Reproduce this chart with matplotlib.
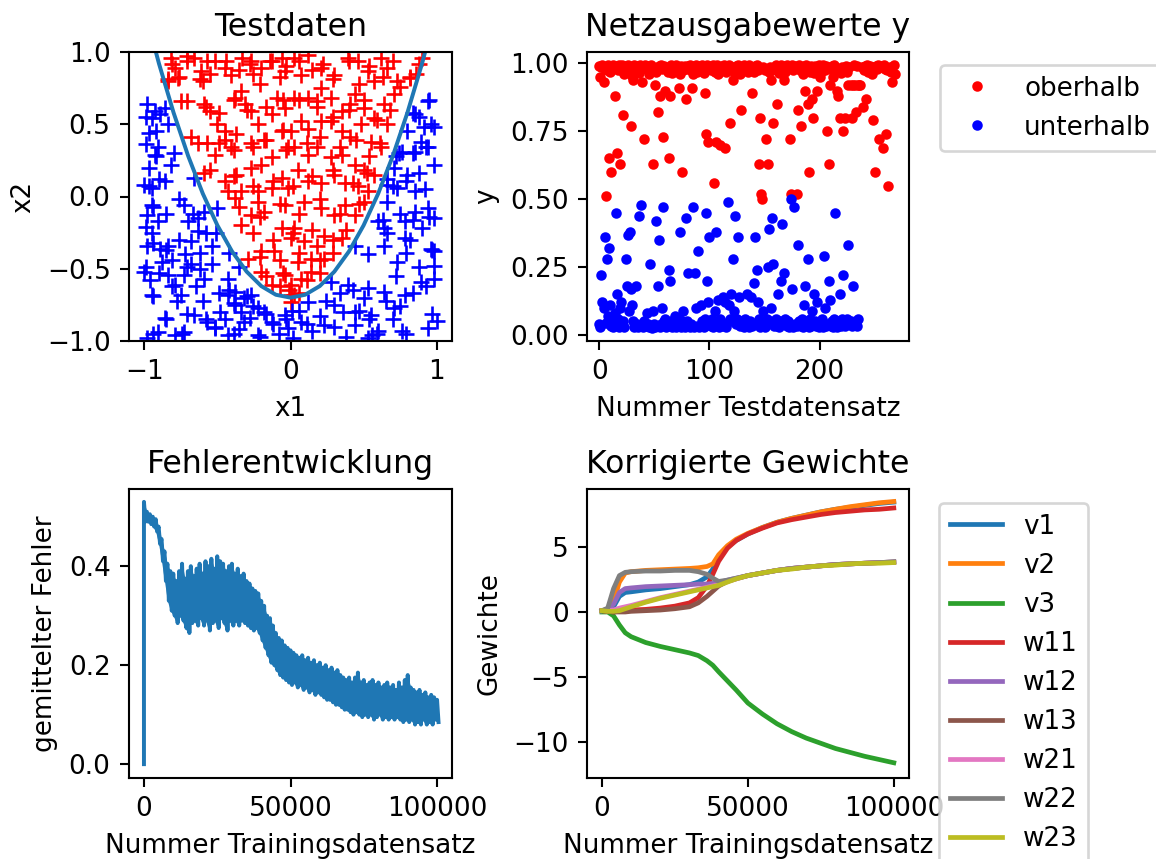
import matplotlib
matplotlib.use("Agg")
import matplotlib.pyplot as plt

# Testdaten: Punkte oberhalb (rot) und unterhalb (blau) der Trennkurve
red_x1 = [-0.82, -0.79, -0.71, -0.66, -0.84, -0.77, -0.71, -0.61, -0.60, -0.57, -0.52, -0.45, -0.41, -0.33, -0.27,
          -0.26, -0.20, -0.13, -0.06, -0.04, -0.34, -0.38, -0.27, -0.31, -0.09, -0.13, -0.04, -0.06, -0.02, 0.0,
          -0.59, -0.55, -0.50, -0.45, -0.68, -0.63, -0.57, -0.52, -0.45, -0.41, -0.37, -0.27, -0.22, -0.18, -0.13,
          -0.20, -0.27, -0.37, -0.45, -0.55, -0.59, -0.06, -0.13, -0.22, -0.34, -0.43, -0.02, -0.75,
          0.025, 0.12, 0.07, 0.21, 0.30, 0.39, 0.46, 0.53, 0.62, 0.66, 0.57, 0.73, 0.82, 0.90, 0.86, 0.025, 0.12,
          0.18, 0.21, 0.28, 0.35, 0.41, 0.44, 0.50, 0.57, 0.64, 0.71, 0.66, 0.07, 0.12, 0.21, 0.28, 0.35, 0.41,
          0.48, 0.55, 0.62, 0.025, 0.12, 0.18, 0.28, 0.35, 0.44, 0.50, 0.57, 0.05, 0.12, 0.21, 0.30, 0.37, 0.46, 0.53,
          -0.38, -0.22, -0.27, -0.34, -0.18, -0.04, -0.06, 0.0, -0.20, -0.11, -0.29, -0.20, -0.04, -0.13, 0.0,
          0.09, 0.21, 0.30, 0.37, 0.44, 0.50, 0.025, 0.09, 0.18, 0.23, 0.35, 0.05, 0.14, 0.23, 0.07, 0.14, 0.025, 0.0,
          -0.81, -0.76, -0.84, -0.71, -0.62, -0.55, -0.44, -0.35, -0.28, -0.21, -0.14, -0.075, -0.03, 0.06, 0.15,
          0.22, 0.29, 0.40, 0.47, 0.54, 0.63, 0.70, 0.75, 0.815, 0.88, -0.58, -0.49, -0.39, -0.30, -0.17, -0.05,
          -0.05, 0.06, 0.18, 0.29, 0.40, 0.50, 0.59, 0.68, -0.49, -0.39, -0.26, -0.17, -0.03, 0.11, 0.20, 0.34,
          0.45, 0.54, 0.61, -0.39, -0.26, -0.12, 0.016, 0.15, 0.29, 0.43, 0.52, -0.35, -0.21, -0.075, 0.06, 0.20,
          0.34, 0.47, -0.26, -0.12, 0.016, 0.15, 0.29, 0.38, -0.21, -0.075, 0.06, 0.20, 0.29, -0.17, -0.05, 0.11,
          0.20, -0.007, 0.06, -0.075, 0.0]
red_x2 = [0.96, 0.89, 0.935, 0.96, 0.80, 0.82, 0.66, 0.87, 0.80, 0.935, 0.935, 0.89, 0.84, 0.96, 0.935,
          0.85, 0.89, 0.935, 0.96, 0.87, 0.73, 0.68, 0.59, 0.64, 0.68, 0.57, 0.61, 0.45, 0.34, 0.45,
          0.64, 0.59, 0.50, 0.45, 0.41, 0.37, 0.37, 0.29, 0.39, 0.34, 0.43, 0.37, 0.50, 0.39, 0.27,
          0.22, 0.20, 0.15, 0.11, 0.18, 0.16, 0.13, 0.06, 0.04, 0.04, 0.04, 0.06, 0.66,
          0.96, 0.98, 0.84, 0.89, 0.84, 0.96, 0.935, 0.87, 0.96, 0.89, 0.80, 0.80, 0.82, 0.96, 0.85, 0.68, 0.68,
          0.66, 0.75, 0.68, 0.59, 0.64, 0.71, 0.61, 0.54, 0.64, 0.71, 0.50, 0.52, 0.47, 0.52, 0.52, 0.45, 0.41,
          0.50, 0.38, 0.34, 0.34, 0.29, 0.34, 0.27, 0.29, 0.22, 0.18, 0.15, 0.18, 0.11, 0.09, 0.15, 0.09, 0.07, 0.04,
          -0.01, -0.04, -0.13, -0.20, -0.105, -0.06, -0.22, -0.29, -0.38, -0.38, -0.43, -0.52, -0.54, -0.61, -0.68,
          -0.036, -0.08, -0.13, -0.06, -0.13, -0.036, -0.22, -0.31, -0.34, -0.27, -0.29, -0.45, -0.43, -0.43, -0.57,
          -0.52, -0.68, -0.61,
          0.92, 0.83, 0.81, 0.97, 0.81, 0.85, 0.94, 0.875, 0.92, 0.78, 0.94, 0.83, 0.90, 0.94, 0.875,
          0.92, 0.81, 0.94, 0.78, 0.90, 0.83, 0.94, 0.76, 0.83, 0.92, 0.62, 0.575, 0.67, 0.60, 0.62, 0.67,
          0.46, 0.67, 0.62, 0.55, 0.60, 0.67, 0.53, 0.60, 0.37, 0.32, 0.345, 0.39, 0.32, 0.37, 0.41, 0.345,
          0.39, 0.28, 0.37, 0.14, 0.07, 0.11, 0.07, 0.14, 0.18, 0.09, 0.16, -0.07, -0.14, -0.05, -0.12, -0.02,
          -0.12, -0.05, -0.25, -0.30, -0.25, -0.23, -0.30, -0.23, -0.42, -0.44, -0.39, -0.44, -0.39, -0.55, -0.53, -0.58,
          -0.53, -0.65, -0.67, -0.62, -0.73]

blue_x1 = [-0.98, -0.93, -0.89, -0.86, -0.95, -0.84, -0.97, -0.91, -0.93, -0.82, -1.0, -0.95, -0.86, -0.66,
           0.94, 0.85, 0.96, 0.98, 0.80, 0.89, 0.85, 0.76, 0.72, 0.71, 0.80, 0.66, 0.66, 0.85, 0.73, 0.94,
           -0.95, -0.98, -0.91, -0.73, -0.70, -0.63, -0.59, -0.50, -0.98, -0.89, -0.84, -0.68, -0.63, -0.54,
           -1.0, -0.84, -0.73, -0.68, -0.59, -0.54, -0.79, -0.75, -0.95, -0.43, -0.38, -0.43, -0.32, -0.27,
           -0.38, -0.48, -0.34, -0.22, -0.18, -0.86, -0.66, -0.57, -0.32, -0.13, -0.91, -0.79, -0.73, -0.52,
           -0.43, -0.22, -0.04, -0.02, -0.98,
           0.66, 0.60, 0.64, 0.78, 0.85, 0.94, 0.98, 0.44, 0.53, 0.64, 0.73, 0.78, 0.96, 0.98, 0.89, 0.98,
           0.28, 0.39, 0.53, 0.64, 0.78, 0.12, 0.30, 0.44, 0.55, 0.71, 0.07, 0.23, 0.44, 0.60, 0.76, 0.94, 1.0,
           0.01, 0.53,
           -0.99, -0.97, -0.92, -0.94, -0.99, -0.85, -0.94, -0.85, -0.76, -0.99, -0.90, -0.81, -0.71, -0.62,
           -0.58, -0.67, -0.76, -0.94, -0.81, -0.85, -0.71, -0.58, -0.49, -0.42, -0.39, -0.30, -0.26, -0.17,
           -0.12, -0.03, 0.06, 0.11, 0.20, 0.24, 0.34, 0.43, 0.47, 0.54, 0.59, 0.70, 0.75, 0.84, 0.93, 0.97,
           0.97, 0.88, 0.79, 0.66, 0.63, 0.75, 0.84, 0.95, 0.70, 0.79, 0.88, 0.84, 0.93, 0.91, 0.84, 0.95, 0.74,
           -0.74, -0.94, -0.39, -0.21, 0.38, 0.79, 0.56, -0.35, -0.42, -0.51,
           -0.97, -0.90, -0.95, -0.88, -0.96, -0.78, -0.65, -0.60, -0.52, -0.45, -0.35, -0.28, -0.08, 0.02, 0.15,
           0.30, 0.36, 0.50, 0.65, 0.72, 0.82, 0.90, 0.98, 0.92, 0.98, 0.88, -0.92, -0.99, -0.80, -0.72, -0.62]
blue_x2 = [0.64, 0.59, 0.57, 0.61, 0.54, 0.50, 0.44, 0.34, 0.29, 0.22, 0.08, 0.06, 0.11, 0.13,
           0.66, 0.57, 0.50, 0.48, 0.45, 0.38, 0.31, 0.31, 0.28, 0.20, 0.15, 0.12, 0.08, 0.04, 0.06, 0.34,
           -0.06, -0.13, -0.17, -0.06, -0.17, -0.15, -0.105, -0.08, -0.34, -0.36, -0.34, -0.31, -0.24, -0.34,
           -0.52, -0.54, -0.54, -0.47, -0.57, -0.47, -0.61, -0.68, -0.68, -0.57, -0.66, -0.68, -0.70, -0.68,
           -0.75, -0.80, -0.80, -0.77, -0.80, -0.84, -0.82, -0.87, -0.87, -0.87, -0.94, -0.96, -0.94, -0.91,
           -0.96, -0.96, -0.82, -0.91, -0.98,
           -0.036, -0.17, -0.22, -0.17, -0.105, -0.08, -0.15, -0.34, -0.40, -0.34, -0.45, -0.29, -0.36, -0.38,
           -0.59, -0.57, -0.59, -0.61, -0.63, -0.66, -0.68, -0.73, -0.75, -0.80, -0.82, -0.77, -0.87, -0.89,
           -0.89, -0.93, -0.93, -0.91, -0.86, -0.79, -0.98,
           0.55, 0.07, 0.28, -0.07, -0.21, -0.12, -0.32, -0.37, -0.30, -0.49, -0.53, -0.44, -0.49, -0.39,
           -0.25, -0.12, -0.02, -0.69, -0.62, -0.85, -0.81, -0.85, -0.67, -0.65, -0.74, -0.69, -0.76, -0.81,
           -0.88, -0.85, -0.79, -0.88, -0.83, -0.72, -0.67, -0.65, -0.79, -0.85, -0.95, -0.85, -0.76, -0.67,
           -0.62, -0.81, -0.37, -0.49, -0.39, -0.25, -0.16, -0.12, -0.16, -0.14, 0.07, 0.11, 0.16, 0.30, 0.345,
           0.48, 0.575, 0.67, 0.30, -0.95, -0.95, -0.95, -0.97, -0.97, -0.95, -0.96, -0.49, -0.39, -0.25,
           0.20, 0.12, -0.25, -0.45, -0.58, -0.72, -0.62, -0.72, -0.90, -0.85, -0.92, -0.84, -0.95, -0.98, -0.93,
           -0.90, -0.80, -0.70, -0.72, -0.55, -0.30, -0.22, -0.48, 0.05, 0.22, 0.55, 0.45, 0.36, 0.30, -0.40, -0.50]

# Trennkurve
curve_x1 = [-1.0, -0.9, -0.8, -0.7, -0.6, -0.5, -0.4, -0.3, -0.2, -0.1, 0.0,
            0.1, 0.2, 0.3, 0.4, 0.5, 0.6, 0.7, 0.8, 0.9, 1.0]
curve_x2 = [1.30, 0.92, 0.58, 0.28, 0.02, -0.20, -0.38, -0.52, -0.62, -0.68, -0.70,
            -0.68, -0.62, -0.52, -0.38, -0.20, 0.02, 0.28, 0.58, 0.92, 1.30]

# Netzausgabewerte: Grundwerte je Testdatensatz, dazu die abweichenden Werte
red_base = [0.99, 0.97, 0.985, 0.995, 0.96, 0.98, 0.99, 0.975, 0.995, 0.985, 0.97, 0.99, 0.98, 0.995, 0.965, 0.99, 0.985, 0.975, 0.995, 0.98,
            0.975, 0.995, 0.985, 0.96, 0.99, 0.98, 0.995, 0.97, 0.985, 0.99, 0.955, 0.98, 0.995, 0.975, 0.99, 0.985, 0.965, 0.995, 0.98, 0.99,
            0.985, 0.97, 0.995, 0.98, 0.99, 0.96, 0.985, 0.995, 0.975, 0.99, 0.98, 0.995, 0.97, 0.985, 0.99, 0.96, 0.995, 0.98, 0.975, 0.99,
            0.995, 0.98, 0.97, 0.99, 0.985, 0.995, 0.965, 0.98, 0.99, 0.975, 0.995, 0.985, 0.98, 0.96, 0.99, 0.995, 0.975, 0.985, 0.99, 0.97,
            0.98, 0.99, 0.995, 0.975, 0.985, 0.96, 0.99, 0.98, 0.995, 0.97, 0.985, 0.99, 0.975, 0.995, 0.98, 0.965, 0.99, 0.985, 0.995, 0.975,
            0.99, 0.975, 0.985, 0.995, 0.98, 0.97, 0.99, 0.995, 0.96, 0.985, 0.98, 0.99, 0.975, 0.995, 0.985, 0.97, 0.99, 0.98, 0.995, 0.965,
            0.985, 0.995, 0.97, 0.98, 0.99, 0.975, 0.995, 0.985, 0.96, 0.99, 0.98, 0.995, 0.975, 0.985, 0.99, 0.97, 0.995, 0.98, 0.985, 0.99,
            0.97, 0.99, 0.985, 0.995, 0.975, 0.98, 0.99, 0.96, 0.995, 0.985, 0.975, 0.99, 0.98, 0.995, 0.97, 0.985, 0.99, 0.975, 0.995, 0.98,
            0.995, 0.98, 0.99, 0.965, 0.985, 0.995, 0.975, 0.99, 0.98, 0.97, 0.995, 0.985, 0.99, 0.96, 0.98, 0.995, 0.975, 0.985, 0.99, 0.97,
            0.98, 0.995, 0.975, 0.99, 0.985, 0.96, 0.99, 0.98, 0.995, 0.975, 0.985, 0.97, 0.99, 0.995, 0.98, 0.965, 0.99, 0.985, 0.975, 0.995,
            0.99, 0.97, 0.985, 0.995, 0.98, 0.975, 0.99, 0.995, 0.96, 0.985, 0.98, 0.99, 0.97, 0.995, 0.985, 0.975, 0.99, 0.98, 0.995, 0.965,
            0.985, 0.995, 0.975, 0.98, 0.99, 0.97, 0.995, 0.985, 0.96, 0.99, 0.98, 0.995, 0.975, 0.985, 0.99, 0.97, 0.995, 0.98, 0.985, 0.99,
            0.975, 0.99, 0.985, 0.995, 0.97, 0.98, 0.99, 0.96, 0.995, 0.985, 0.975, 0.99, 0.98, 0.995, 0.97, 0.985, 0.99, 0.975, 0.995, 0.98,
            0.99, 0.975, 0.995, 0.98, 0.985, 0.97, 0.99, 0.995, 0.96]
red_out_idx = [1, 4, 6, 9, 11, 14, 16, 19, 22, 29, 31, 39, 41, 49, 51, 53, 55, 58, 60, 63, 64, 72, 75, 79, 84,
               96, 97, 99, 104, 106, 110, 114, 119, 121, 129, 139, 145, 146, 147, 148, 151, 153, 156, 158, 161,
               168, 173, 174, 179, 180, 183, 187, 189, 190, 193, 194, 198, 200, 207, 208, 209, 212, 216, 217,
               218, 221, 223, 226, 228, 229, 230, 232, 233, 235, 236, 237, 239, 242, 248, 250, 254, 257, 260,
               262, 266]
red_out_val = [0.95, 0.93, 0.51, 0.65, 0.60, 0.88, 0.67, 0.63, 0.81, 0.77, 0.94, 0.93, 0.72, 0.63, 0.92, 0.82,
               0.88, 0.73, 0.90, 0.65, 0.88, 0.91, 0.60, 0.87, 0.91, 0.89, 0.74, 0.71, 0.56, 0.71, 0.70, 0.69,
               0.78, 0.94, 0.83, 0.89, 0.63, 0.80, 0.52, 0.50, 0.72, 0.63, 0.94, 0.78, 0.85, 0.94, 0.72, 0.52,
               0.52, 0.83, 0.77, 0.90, 0.85, 0.60, 0.87, 0.80, 0.90, 0.95, 0.75, 0.63, 0.92, 0.95, 0.90, 0.88,
               0.80, 0.75, 0.80, 0.92, 0.92, 0.80, 0.92, 0.92, 0.82, 0.92, 0.92, 0.92, 0.84, 0.87, 0.79, 0.60,
               0.72, 0.69, 0.74, 0.55, 0.93]

blue_base = [0.04, 0.03, 0.06, 0.12, 0.10, 0.09, 0.045, 0.03, 0.07, 0.04, 0.11, 0.035, 0.05, 0.03, 0.08, 0.045, 0.035, 0.06, 0.03, 0.10,
             0.12, 0.035, 0.05, 0.03, 0.045, 0.06, 0.03, 0.09, 0.04, 0.035, 0.11, 0.05, 0.03, 0.07, 0.04, 0.03, 0.06, 0.035, 0.05, 0.04,
             0.03, 0.05, 0.035, 0.08, 0.04, 0.03, 0.06, 0.035, 0.025, 0.09, 0.04, 0.03, 0.05, 0.035, 0.06, 0.03, 0.04, 0.10, 0.035, 0.05,
             0.06, 0.03, 0.04, 0.035, 0.09, 0.05, 0.03, 0.045, 0.035, 0.07, 0.03, 0.04, 0.06, 0.035, 0.03, 0.05, 0.09, 0.04, 0.03, 0.035,
             0.05, 0.08, 0.03, 0.04, 0.035, 0.06, 0.03, 0.05, 0.1, 0.035, 0.04, 0.03, 0.11, 0.05, 0.035, 0.03, 0.06, 0.04, 0.035, 0.12,
             0.04, 0.035, 0.06, 0.03, 0.05, 0.09, 0.035, 0.04, 0.13, 0.03, 0.06, 0.035, 0.05, 0.04, 0.12, 0.03, 0.045, 0.035, 0.11, 0.06,
             0.03, 0.05, 0.09, 0.035, 0.04, 0.06, 0.03, 0.14, 0.035, 0.05, 0.04, 0.03, 0.06, 0.035, 0.09, 0.04, 0.03, 0.05, 0.14, 0.035,
             0.05, 0.03, 0.04, 0.035, 0.12, 0.06, 0.03, 0.045, 0.035, 0.09, 0.03, 0.04, 0.06, 0.035, 0.03, 0.05, 0.10, 0.04, 0.03, 0.035,
             0.06, 0.035, 0.04, 0.03, 0.05, 0.14, 0.035, 0.04, 0.03, 0.06, 0.035, 0.05, 0.03, 0.04, 0.12, 0.035, 0.03, 0.06, 0.04, 0.035,
             0.03, 0.05, 0.04, 0.035, 0.06, 0.03, 0.11, 0.035, 0.05, 0.04, 0.03, 0.06, 0.035, 0.09, 0.04, 0.03, 0.05, 0.035, 0.12, 0.03,
             0.04, 0.035, 0.06, 0.03, 0.05, 0.10, 0.035, 0.04, 0.03, 0.13, 0.035, 0.05, 0.03, 0.06, 0.04, 0.035, 0.03, 0.05, 0.04, 0.035,
             0.06, 0.03, 0.04, 0.035, 0.05, 0.06, 0.035, 0.04, 0.05, 0.035, 0.06, 0.045, 0.04, 0.05, 0.035, 0.06]
blue_out_idx = [2, 5, 7, 9, 15, 16, 24, 25, 26, 28, 29, 33, 36, 38, 46, 52, 53, 54, 58, 63, 64, 73, 79, 81, 85,
                87, 90, 97, 98, 100, 106, 112, 117, 120, 121, 123, 126, 134, 140, 141, 143, 153, 154, 157, 158,
                162, 165, 166, 168, 174, 175, 177, 180, 187, 189, 195, 204, 208, 214, 218, 221, 226, 230]
blue_out_val = [0.22, 0.36, 0.28, 0.32, 0.45, 0.15, 0.28, 0.18, 0.37, 0.38, 0.17, 0.18, 0.44, 0.48, 0.26, 0.42,
                0.18, 0.35, 0.47, 0.24, 0.20, 0.38, 0.43, 0.23, 0.47, 0.23, 0.31, 0.45, 0.20, 0.36, 0.38, 0.14,
                0.49, 0.15, 0.28, 0.44, 0.36, 0.15, 0.19, 0.36, 0.24, 0.25, 0.39, 0.43, 0.26, 0.15, 0.20, 0.41,
                0.23, 0.50, 0.17, 0.47, 0.33, 0.18, 0.28, 0.15, 0.29, 0.20, 0.45, 0.15, 0.22, 0.33, 0.18]

# Fehlerentwicklung: Einhuellende des verrauschten Fehlers, alle 1000 Datensaetze
err_steps = list(range(0, 101000, 1000))
err_hi = [0.53, 0.51, 0.505, 0.50, 0.495, 0.48, 0.455, 0.43, 0.405, 0.39, 0.385, 0.37, 0.39, 0.405, 0.375, 0.39, 0.40, 0.38, 0.395, 0.405,
          0.385, 0.41, 0.40, 0.415, 0.395, 0.42, 0.41, 0.405, 0.39, 0.40, 0.405, 0.385, 0.395, 0.38, 0.385, 0.37, 0.365, 0.355, 0.35, 0.345,
          0.33, 0.32, 0.30, 0.295, 0.28, 0.265, 0.255, 0.25, 0.24, 0.235, 0.23, 0.225, 0.22, 0.215, 0.22, 0.21, 0.215, 0.205, 0.21, 0.20,
          0.205, 0.195, 0.20, 0.19, 0.195, 0.185, 0.19, 0.18, 0.175, 0.17, 0.175, 0.165, 0.175, 0.185, 0.165, 0.17, 0.16, 0.165, 0.17, 0.16,
          0.165, 0.155, 0.16, 0.165, 0.155, 0.16, 0.15, 0.165, 0.155, 0.17, 0.18, 0.155, 0.15, 0.145, 0.15, 0.14, 0.145, 0.135, 0.14, 0.135,
          0.13]
err_lo = [0.49, 0.49, 0.485, 0.48, 0.47, 0.445, 0.41, 0.37, 0.33, 0.31, 0.30, 0.285, 0.30, 0.29, 0.275, 0.265, 0.285, 0.29, 0.28, 0.295,
          0.28, 0.29, 0.27, 0.285, 0.29, 0.275, 0.295, 0.285, 0.27, 0.29, 0.28, 0.29, 0.28, 0.29, 0.285, 0.28, 0.275, 0.27, 0.275, 0.265,
          0.25, 0.235, 0.22, 0.205, 0.20, 0.19, 0.18, 0.175, 0.17, 0.165, 0.16, 0.165, 0.155, 0.16, 0.15, 0.155, 0.145, 0.15, 0.14, 0.145,
          0.14, 0.135, 0.13, 0.13, 0.125, 0.12, 0.12, 0.115, 0.11, 0.11, 0.105, 0.10, 0.105, 0.10, 0.095, 0.10, 0.095, 0.10, 0.09, 0.095,
          0.10, 0.09, 0.095, 0.09, 0.095, 0.09, 0.095, 0.09, 0.085, 0.09, 0.085, 0.09, 0.08, 0.085, 0.08, 0.09, 0.08, 0.085, 0.08, 0.09,
          0.085]

# Korrigierte Gewichte
w_steps = [0, 2000, 4000, 6000, 8000, 10000, 15000, 20000, 25000, 30000, 33000, 36000, 38000, 40000, 43000,
           46000, 50000, 55000, 60000, 65000, 70000, 75000, 80000, 85000, 90000, 95000, 100000]
v1 = [0.1, 0.15, 0.4, 1.2, 1.5, 1.55, 1.7, 1.8, 1.95, 2.1, 2.3, 2.7, 3.3, 4.2, 5.0, 5.5, 6.0, 6.5, 6.9, 7.2, 7.45, 7.7, 7.9, 8.05, 8.2, 8.35, 8.45]
v2 = [0.1, 0.2, 0.8, 2.3, 3.0, 3.1, 3.2, 3.25, 3.3, 3.35, 3.4, 3.5, 3.7, 4.4, 5.1, 5.6, 6.05, 6.5, 6.9, 7.2, 7.45, 7.7, 7.9, 8.1, 8.25, 8.4, 8.5]
v3 = [0.0, 0.0, -0.3, -1.0, -1.6, -1.9, -2.35, -2.65, -2.9, -3.15, -3.35, -3.75, -4.1, -4.6, -5.3, -6.0, -7.0, -7.85, -8.6, -9.2, -9.7, -10.1, -10.5, -10.8, -11.1, -11.35, -11.6]
w11 = [0.1, 0.05, 0.0, 0.05, 0.1, 0.15, 0.2, 0.3, 0.45, 0.7, 1.1, 2.0, 2.9, 3.9, 4.9, 5.5, 6.0, 6.45, 6.85, 7.1, 7.3, 7.5, 7.65, 7.75, 7.85, 7.9, 8.0]
w12 = [0.1, 0.2, 0.6, 1.5, 1.8, 1.85, 1.95, 2.0, 2.05, 2.1, 2.15, 2.15, 2.2, 2.25, 2.45, 2.6, 2.8, 3.0, 3.2, 3.35, 3.45, 3.55, 3.65, 3.7, 3.75, 3.8, 3.85]
w13 = [0.1, 0.05, 0.0, 0.0, 0.0, 0.05, 0.1, 0.15, 0.25, 0.4, 0.7, 1.2, 1.6, 2.0, 2.35, 2.55, 2.8, 3.0, 3.2, 3.35, 3.45, 3.55, 3.65, 3.7, 3.75, 3.8, 3.85]
w21 = [0.1, 0.1, 0.15, 0.3, 0.4, 0.5, 0.8, 1.1, 1.35, 1.6, 1.75, 1.9, 2.0, 2.1, 2.35, 2.55, 2.8, 3.0, 3.2, 3.35, 3.45, 3.55, 3.65, 3.7, 3.75, 3.8, 3.8]
w22 = [0.1, 0.3, 1.8, 2.8, 3.05, 3.1, 3.15, 3.15, 3.2, 3.2, 3.1, 2.9, 2.6, 2.35, 2.45, 2.6, 2.8, 3.0, 3.2, 3.35, 3.45, 3.55, 3.65, 3.7, 3.75, 3.8, 3.85]
w23 = [0.1, 0.05, 0.05, 0.1, 0.25, 0.4, 0.75, 1.05, 1.3, 1.55, 1.7, 1.85, 1.95, 2.05, 2.3, 2.55, 2.8, 3.0, 3.2, 3.3, 3.45, 3.55, 3.6, 3.7, 3.75, 3.75, 3.8]
weights = [v1, v2, v3, w11, w12, w13, w21, w22, w23]
weight_names = ["v1", "v2", "v3", "w11", "w12", "w13", "w21", "w22", "w23"]

W, H = 1156, 859
DPI = 189
fig = plt.figure(figsize=(W / DPI, H / DPI), dpi=DPI)

#Testdaten
ax1 = fig.add_axes([129 / W, 1 - 341 / H, 323 / W, 289 / H])
ax1.plot(red_x1, red_x2, "r+")
ax1.plot(blue_x1, blue_x2, "b+")
ax1.plot(curve_x1, curve_x2, color="C0")
ax1.set_xlim(-1.105, 1.105)
ax1.set_ylim(-1, 1)
ax1.set_xticks([-1, 0, 1])
ax1.set_yticks([-1.0, -0.5, 0.0, 0.5, 1.0])
ax1.set_xlabel("x1")
ax1.set_ylabel("x2")
ax1.set_title("Testdaten")

#Netzausgabewerte
red_y = list(red_base)
for i, v in zip(red_out_idx, red_out_val):
    red_y[i] = v
blue_y = list(blue_base)
for i, v in zip(blue_out_idx, blue_out_val):
    blue_y[i] = v

ax2 = fig.add_axes([587 / W, 1 - 341 / H, 322 / W, 289 / H])
ax2.plot(range(len(red_y)), red_y, "r.", label="oberhalb")
ax2.plot(range(len(blue_y)), blue_y, "b.", label="unterhalb")
ax2.set_xlim(-11, 281)
ax2.set_ylim(-0.022, 1.042)
ax2.set_xticks([0, 100, 200])
ax2.set_yticks([0.0, 0.25, 0.5, 0.75, 1.0])
ax2.set_xlabel("Nummer Testdatensatz")
ax2.set_ylabel("y")
ax2.set_title("Netzausgabewerte y")
ax2.legend(loc="upper left", bbox_to_anchor=(940 / W, 1 - 65 / H), bbox_transform=fig.transFigure,
           borderaxespad=0)

#Fehlerentwicklung
err_x = [0]
err_y = [0.0]
for k, hi, lo in zip(err_steps, err_hi, err_lo):
    err_x += [k, k + 500]
    err_y += [hi, lo]

ax3 = fig.add_axes([129 / W, 1 - 778 / H, 323 / W, 289 / H])
ax3.fill_between(err_steps, err_lo, err_hi, color="C0", linewidth=0)
ax3.plot(err_x, err_y, color="C0")
ax3.set_xlim(-5100, 105100)
ax3.set_ylim(-0.028, 0.556)
ax3.set_xticks([0, 50000, 100000])
ax3.set_yticks([0.0, 0.2, 0.4])
ax3.set_xlabel("Nummer Trainingsdatensatz")
ax3.set_ylabel("gemittelter Fehler")
ax3.set_title("Fehlerentwicklung")

#Korrigierte Gewichte
ax4 = fig.add_axes([587 / W, 1 - 778 / H, 322 / W, 289 / H])
for i, (vals, name) in enumerate(zip(weights, weight_names)):
    ax4.plot(w_steps, vals, color="C%d" % i, linewidth=1.8, label=name)
ax4.set_xlim(-5100, 105200)
ax4.set_ylim(-12.77, 9.46)
ax4.set_xticks([0, 50000, 100000])
ax4.set_yticks([-10, -5, 0, 5])
ax4.set_xlabel("Nummer Trainingsdatensatz")
ax4.set_ylabel("Gewichte")
ax4.set_title("Korrigierte Gewichte")
ax4.legend(loc="upper left", bbox_to_anchor=(939 / W, 1 - 503 / H), bbox_transform=fig.transFigure,
           borderaxespad=0)

fig.savefig("out.png", dpi=DPI)
